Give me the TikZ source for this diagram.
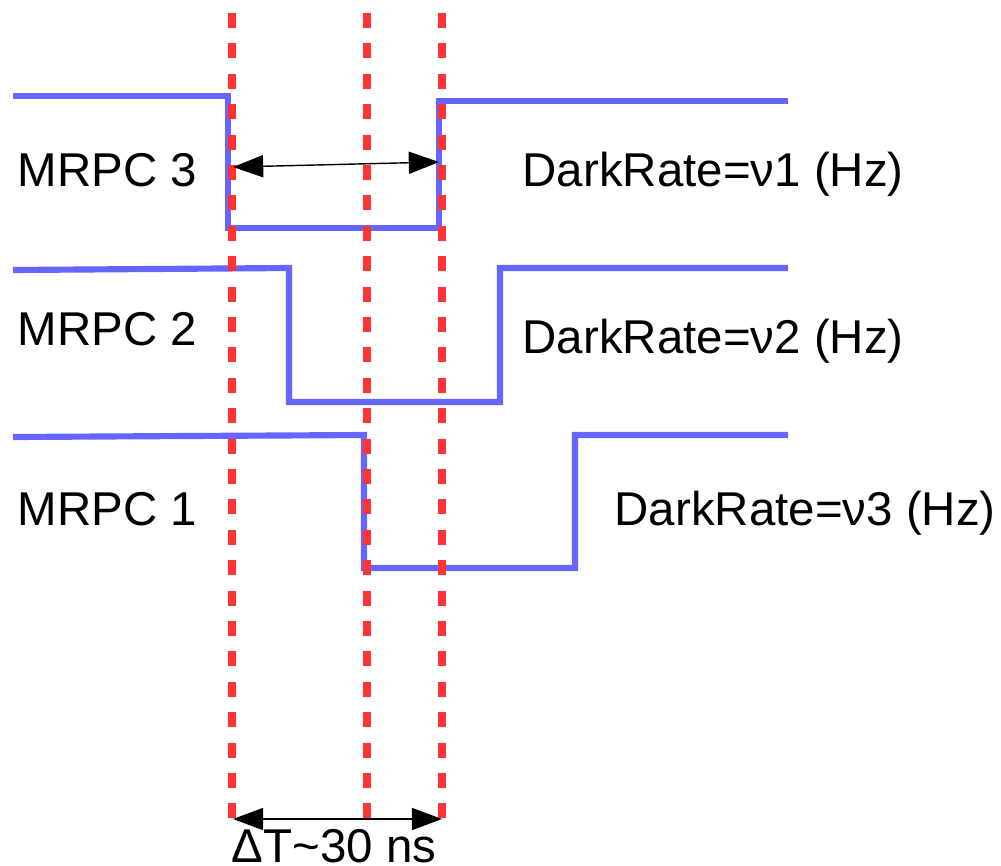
\documentclass[tikz,border=0pt]{standalone}
\usepackage{fontspec}
\setmainfont{Liberation Sans}
\usepackage{tikz}
\usetikzlibrary{arrows.meta,positioning}
\definecolor{sigblue}{HTML}{6666FF}
\definecolor{markred}{HTML}{FF3333}

\begin{document}
\begin{tikzpicture}[every node/.style={font=\fontsize{13.5pt}{16pt}\selectfont, inner sep=0pt},
  sig/.style={sigblue, line width=1.75pt},
  marker/.style={markred, line width=2pt, dash pattern=on 4.27pt off 4.38pt},
  span/.style={black, line width=0.4pt, {Triangle[length=8.6pt,width=6.3pt]}-{Triangle[length=8.6pt,width=6.3pt]}}]
\useasboundingbox (0,0) rectangle (10.01,-8.65);
% signal traces of the three chambers
\draw[sig] (0.13,-0.96) -- (2.28,-0.96) -- (2.28,-2.28) -- (4.39,-2.28) -- (4.39,-1.01) -- (7.88,-1.01);
\draw[sig] (0.13,-2.70) -- (2.89,-2.68) -- (2.89,-4.02) -- (5.00,-4.02) -- (5.00,-2.68) -- (7.88,-2.68);
\draw[sig] (0.13,-4.37) -- (3.64,-4.35) -- (3.64,-5.68) -- (5.75,-5.68) -- (5.75,-4.35) -- (7.88,-4.35);
% time window markers
\foreach \x in {2.32, 3.67, 4.42}{
  \draw[marker] (\x,-0.13) -- (\x,-8.18);
}
% labels
\node[anchor=base west] (mrpc3) at (0.17,-1.86) {MRPC 3};
\node[anchor=base west] (mrpc2) at (0.17,-3.45) {MRPC 2};
\node[anchor=base west] (mrpc1) at (0.17,-5.25) {MRPC 1};
\node[anchor=base west] (rate1) at (5.22,-1.86) {DarkRate=ν1 (Hz)};
\node[anchor=base west] (rate2) at (5.22,-3.53) {DarkRate=ν2 (Hz)};
\node[anchor=base west] (rate3) at (6.14,-5.25) {DarkRate=ν3 (Hz)};
% width arrows
\coordinate (wl) at (2.33,-1.67);
\coordinate (wr) at (4.39,-1.62);
\draw[span] (wl) -- (wr);
\coordinate (dl) at (2.33,-8.19);
\coordinate (dr) at (4.42,-8.19);
\draw[span] (dl) -- (dr);
\node[anchor=base west] (dt) at (2.31,-8.62) {ΔT\textasciitilde30 ns};
\end{tikzpicture}
\end{document}
